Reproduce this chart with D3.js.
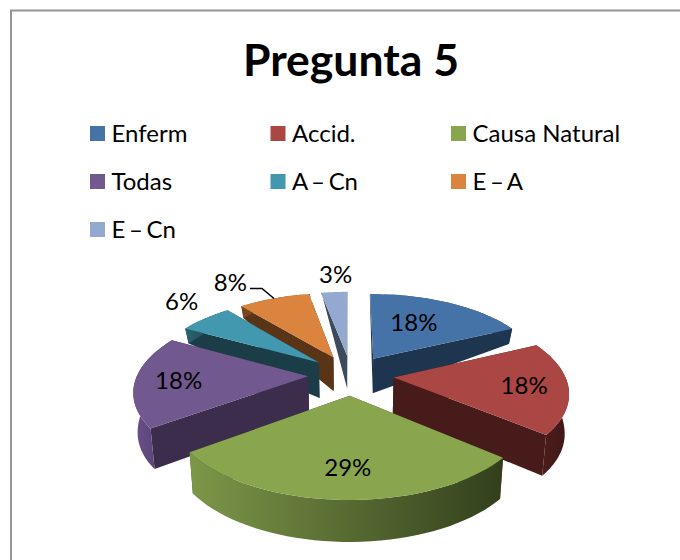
<!DOCTYPE html>
<html><head><meta charset="utf-8">
<script src="https://cdn.jsdelivr.net/npm/d3@7"></script>
<style>html,body{margin:0;padding:0;background:#fff}svg{display:block}text{font-family:Lato,"Open Sans",sans-serif;fill:#000}</style>
</head><body><svg id="c" width="680" height="560"></svg>
<script>
const title = "Pregunta 5";
const categories = ["Enferm","Accid.","Causa Natural","Todas","A – Cn","E – A","E – Cn"];
const values = [18,18,29,18,6,8,3];
const labels = ["18%","18%","29%","18%","6%","8%","3%"];
const topColors = ["#4572A7","#AA4643","#89A54E","#71588F","#4198AF","#DB843D","#93A9CF"];
const wallColors = ["#1E3550","#471B19","#3A4720","#3C2D4D","#1A3D48","#5A3416","#3D4A5C"];
const sideLight = ["#2A4A70","#4E1E1C","#7D9748","#68518A","#2A6272","#7A481E","#55678A"];
const sideDark  = ["#1E3550","#401816","#323F1C","#503D68","#1A3D48","#5A3416","#3D4A5C"];
const labelRadius = [0.6,0.75,0.72,0.75,1.25,1.33,1.33];
const labelNudge = [[-7,-1],[0,0],[3,1],[0,1],[2,-7],[-27,1],[5,0]];

// projection of the exploded pie
const cx=351, horizonY=-123, camH=498, camD=6.23, radiusPx=171, explode=0.25;
const depth=d3.scaleLinear().domain([-1.25,-0.25,0.2,0.64,1.0,1.2]).range([42,40,35,15,12,0]).clamp(true);
function ground(a,r,mid){return {X:r*Math.sin(a)+explode*Math.sin(mid),Z:r*Math.cos(a)+explode*Math.cos(mid)};}
function project(g){const p=camD/(camD+g.Z);return [cx+radiusPx*g.X*p,horizonY+camH*p];}
function projectBottom(g){const t=project(g);return [cx+(t[0]-cx)*0.98,t[1]+depth(g.Z)];}

const svg=d3.select("#c");
const defs=svg.append("defs");
svg.append("rect").attr("x",11).attr("y",10.5).attr("width",800).attr("height",700)
  .attr("fill","#fff").attr("stroke","#959595").attr("stroke-width",2);

svg.append("text").attr("x",351).attr("y",76).attr("text-anchor","middle")
  .attr("font-size",44.5).attr("font-weight",700).text(title);

const legendCol=d3.scalePoint().domain([0,1,2]).range([90,451]);
const legendRow=d3.scalePoint().domain([0,1,2]).range([126,222]);
const lg=svg.append("g").selectAll("g").data(categories).join("g")
  .attr("transform",(d,i)=>`translate(${legendCol(i%3)},${legendRow(Math.floor(i/3))})`);
lg.append("rect").attr("width",15).attr("height",15).attr("fill",(d,i)=>topColors[i]);
lg.append("text").attr("x",21.5).attr("y",15.5).attr("font-size",24)
  .attr("word-spacing",d=>d.includes("–")?-2.5:0).text(d=>d);

const pie=d3.pie().sort(null)(values);
const line=d3.line();
const slices=pie.map(s=>{
  const mid=(s.startAngle+s.endAngle)/2;
  const apex=ground(0,0,mid);
  const arc=d3.range(0,41).map(k=>ground(s.startAngle+(s.endAngle-s.startAngle)*k/40,1,mid));
  return {i:s.index,mid,apex,arc};
}).sort((a,b)=>b.apex.Z-a.apex.Z || a.i-b.i);

const pg=svg.append("g");
slices.forEach(s=>{
  const id="side"+s.i, gr=defs.append("linearGradient").attr("id",id)
    .attr("gradientUnits","userSpaceOnUse");
  const xs=s.arc.map(g=>project(g)[0]);
  gr.attr("x1",d3.min(xs)).attr("x2",d3.max(xs)).attr("y1",0).attr("y2",0);
  gr.append("stop").attr("offset",0).attr("stop-color",sideLight[s.i]);
  gr.append("stop").attr("offset",1).attr("stop-color",sideDark[s.i]);
  const g=pg.append("g");
  const first=s.arc[0], last=s.arc[s.arc.length-1];
  [first,last].forEach(e=>{
    g.append("path").attr("fill",wallColors[s.i])
      .attr("d",line([project(s.apex),project(e),projectBottom(e),projectBottom(s.apex)])+"Z");
  });
  g.append("path").attr("fill",`url(#${id})`)
    .attr("d",line(s.arc.map(project).concat(s.arc.slice().reverse().map(projectBottom)))+"Z");
  g.append("path").attr("fill",topColors[s.i])
    .attr("d",line([project(s.apex)].concat(s.arc.map(project)))+"Z");
});

pie.forEach((s,i)=>{
  const mid=(s.startAngle+s.endAngle)/2;
  const pt=project(ground(mid,labelRadius[i],mid));
  svg.append("text").attr("x",pt[0]+labelNudge[i][0]).attr("y",pt[1]+labelNudge[i][1])
    .attr("dy","0.35em").attr("text-anchor","middle").attr("font-size",24).text(labels[i]);
});
// leader line for the E – A label
const oi=5, om=(pie[oi].startAngle+pie[oi].endAngle)/2, oe=project(ground(om,1,om));
svg.append("path").attr("fill","none").attr("stroke","#000").attr("stroke-width",1.5)
  .attr("d",line([[oe[0]-24,oe[1]-10],[oe[0]-12,oe[1]-10],oe]));
</script></body></html>
